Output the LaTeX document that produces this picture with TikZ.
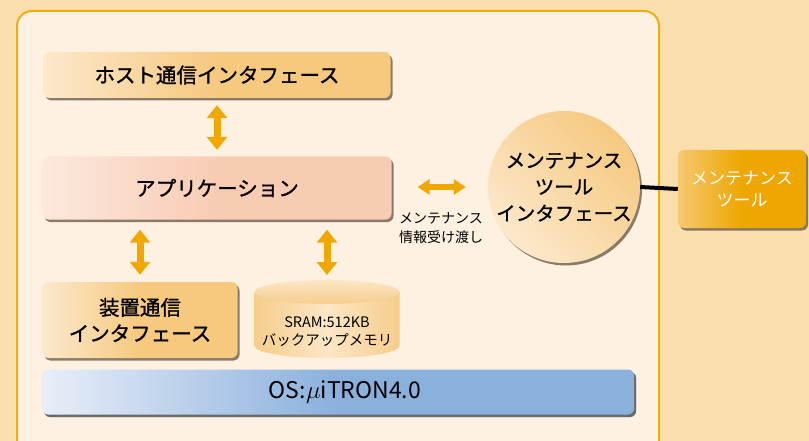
\documentclass[tikz,border=0pt]{standalone}
\usepackage{fontspec}
\setmainfont{Noto Sans CJK JP}
\newfontfamily\jpmed[FakeBold=1.2]{Noto Sans CJK JP}
\usetikzlibrary{arrows.meta,shadows}
\definecolor{pagebg}{HTML}{FBDEAE}
\definecolor{panelbg}{HTML}{FEF1E1}
\definecolor{panelline}{HTML}{F0AE10}
\definecolor{ifor}{HTML}{F6C97F}
\definecolor{iflight}{HTML}{FCE8CC}
\definecolor{appor}{HTML}{F8CCB3}
\definecolor{applight}{HTML}{FCE8DE}
\definecolor{osblue}{HTML}{8AB0DC}
\definecolor{oslight}{HTML}{E8EEF9}
\definecolor{toolor}{HTML}{EEA600}
\definecolor{toollight}{HTML}{F6C870}
\definecolor{arrowor}{HTML}{F0A800}
\definecolor{sramor}{HTML}{F6CD8C}
\definecolor{sramlight}{HTML}{FCE6C6}
\definecolor{shade}{HTML}{6E5E4C}
\begin{document}
\begin{tikzpicture}[x=1pt,y=-1pt,
    box/.style={rounded corners=6pt, minimum width=#1, inner sep=0pt, align=center,
        drop shadow={shadow xshift=2pt, shadow yshift=-2.5pt, fill=shade, opacity=0.8}},
    orbox/.style={box=#1, left color=iflight, right color=ifor, middle color=ifor},
    fat/.style={draw=arrowor, line width=7pt, {Triangle[length=13pt,width=20pt]}-{Triangle[length=13pt,width=20pt]}},
    big/.style={font=\fontsize{20.5}{26}\selectfont\jpmed}]
    \useasboundingbox (0,0) rectangle (809,441);
    \fill[pagebg] (0,0) rectangle (809,441);
    \draw[rounded corners=15pt, fill=panelbg, draw=panelline, line width=2pt] (17,11) rectangle (659,456);
    % boxes
    \node[orbox=347pt, minimum height=46pt, big] (host) at (217,75) {ホスト通信インタフェース};
    \node[box=349pt, minimum height=63pt, left color=applight, right color=appor, middle color=appor, big] (app) at (217,188) {アプリケーション};
    \node[orbox=195pt, minimum height=76pt, big] (dev) at (140,320) {装置通信\\インタフェース};
    \node[box=592pt, minimum height=45pt, left color=oslight, right color=osblue, middle color=osblue,
        drop shadow={shadow xshift=2pt, shadow yshift=-2.5pt, fill=osblue!50!black}] (os) at (338,392) {};
    \node[font=\fontsize{23}{28}\selectfont] (ostxt) at (345,392) {OS:$\mu$iTRON4.0};
    \node[circle, minimum size=152pt, inner sep=0pt, align=center, left color=iflight, right color=ifor, shading angle=135,
        drop shadow={shadow xshift=2pt, shadow yshift=-2.5pt, fill=shade, opacity=0.8}, font=\fontsize{19.5}{26.5}\selectfont\jpmed] (mti) at (564,187) {メンテナンス\\ツール\\インタフェース};
    \node[box=128pt, minimum height=78pt, left color=toollight, right color=toolor, middle color=toolor, text=white,
        font=\fontsize{17}{22}\selectfont] (tool) at (742,189) {メンテナンス\\ツール};
    % SRAM
    \path[left color=sramor, right color=sramor, middle color=sramlight] (254.5,292) -- (254.5,346)
        arc[start angle=180, end angle=360, x radius=72.5pt, y radius=12pt] -- (399.5,292) -- cycle;
    \path[top color=sramlight, bottom color=sramor] (327,292) ellipse[x radius=72.5pt, y radius=12pt];
    \coordinate (sramtop) at (327,280);
    \node[align=center, font=\fontsize{14.5}{18}\selectfont] (sram) at (327,332) {SRAM:512KB\\バックアップメモリ};
    % connectors
    \draw[fat, shorten <=7pt, shorten >=6.5pt] (host.south) -- (host.south |- app.north);
    \draw[fat, shorten <=10pt, shorten >=7pt] (app.south -| dev.north) -- (dev.north);
    \draw[fat, shorten <=10pt, shorten >=5pt] (app.south -| sramtop) -- (sramtop);
    \draw[fat, line width=6pt, {Triangle[length=12pt,width=15pt]}-{Triangle[length=12pt,width=15pt]},
        shorten <=26pt, shorten >=22pt] (mti.west -| app.east) -- (mti.west);
    \node[align=center, font=\fontsize{14}{19}\selectfont] (info) at (441,228) {メンテナンス\\情報受け渡し};
    \draw[line width=4pt] (mti.east) -- (tool.west);
\end{tikzpicture}
\end{document}
